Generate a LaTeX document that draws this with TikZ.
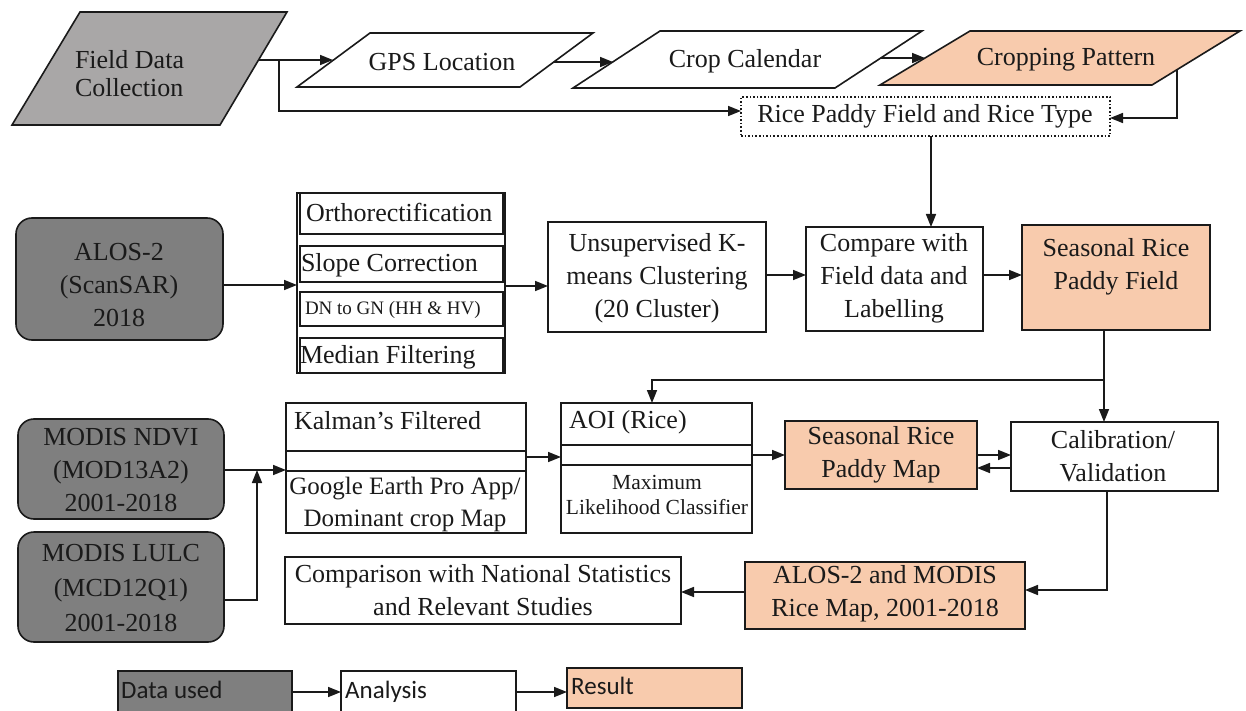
\documentclass[tikz,border=0pt]{standalone}
\usepackage{fontspec}
\setmainfont{Liberation Serif}
\newfontfamily\legendfont{Carlito}
\usetikzlibrary{arrows.meta,calc}
\definecolor{peach}{HTML}{F8CBAD}
\definecolor{dgray}{HTML}{7F7F7F}
\definecolor{lgray}{HTML}{A9A7A7}
\definecolor{ink}{HTML}{1A1A1A}
\tikzset{
  frame/.style={draw=ink, line width=1.6pt, inner sep=0pt, outer sep=0pt},
  rbox/.style={frame, rectangle},
  databox/.style={frame, fill=dgray, rounded corners=16pt},
  resbox/.style={frame, fill=peach},
  para/.style={draw=ink, line width=1.6pt, line join=miter},
  txt/.style={inner sep=0pt, outer sep=0pt, text=ink, align=center, font=\fontsize{26}{33}\selectfont},
  ltxt/.style={txt, align=left},
  smalltxt/.style={txt, font=\fontsize{19}{22}\selectfont},
  legtxt/.style={inner sep=0pt, text=ink, anchor=west, font=\legendfont\fontsize{25}{30}\selectfont},
  arr/.style={draw=ink, line width=1.6pt, -{Triangle[length=13pt,width=10pt]}},
  ln/.style={draw=ink, line width=1.5pt},
}
\begin{document}
\begin{tikzpicture}[x=1pt,y=-1pt]
\useasboundingbox (0,0) rectangle (1246,711);

% ---------- top row (parallelograms) ----------
\draw[para, fill=lgray] (80,12) -- (287,12) -- (220,125) -- (12,125) -- cycle;
\node[ltxt, anchor=west, font=\fontsize{26}{28}\selectfont] (fdc) at (75,74) {Field Data\\Collection};

\draw[para, fill=white] (370,33) -- (593,33) -- (520,87) -- (297,87) -- cycle;
\node[txt] (gps) at (442,62) {GPS Location};

\draw[para, fill=white] (660,31) -- (922,31) -- (835,88) -- (573,88) -- cycle;
\node[txt] (crop) at (745,61) {Crop Calendar};

\draw[para, fill=peach] (970,31) -- (1240,31) -- (1152,85) -- (880,85) -- cycle;
\node[txt] (cpat) at (1066,60) {Cropping Pattern};

\node[frame, draw=ink, dotted, line width=1.6pt, minimum width=369, minimum height=39] (rice) at (925.5,116.5) {};
\node[txt] (rice-t) at (925,116) {Rice Paddy Field and Rice Type};

% connection points on slanted edges
\coordinate (fdc-o) at (258,60);
\coordinate (gps-i) at (333,60);
\coordinate (gps-o) at (554,62);
\coordinate (crop-i) at (613,62);
\coordinate (crop-o) at (881,58);
\coordinate (cpat-i) at (925,58);
\coordinate (cpat-o) at (1177,70);
\coordinate (fdc-b) at (279,60);

\draw[arr] (fdc-o) -- (gps-i);
\draw[arr] (fdc-b) |- (rice.west |- 0,111);
\draw[arr] (gps-o) -- (crop-i);
\draw[arr] (crop-o) -- (cpat-i);
\draw[arr] (cpat-o) |- (rice.east |- 0,118);

% ---------- middle row ----------
\node[databox, minimum width=207, minimum height=122] (alos) at (119.5,279) {};
\node[txt] (alos-t) at (119,285) {ALOS-2\\(ScanSAR)\\2018};

\node[rbox, minimum width=208, minimum height=180] (stack) at (401,283) {};
\node[rbox, fill=white, minimum width=203, minimum height=41] (ortho) at (401.5,213.5) {};
\node[rbox, fill=white, minimum width=203, minimum height=36] (slope) at (401.5,264) {};
\node[rbox, fill=white, minimum width=203, minimum height=34] (dn) at (401.5,309) {};
\node[rbox, fill=white, minimum width=203, minimum height=35] (median) at (401.5,355.5) {};
\node[txt, anchor=west] (ortho-t) at (306,212) {Orthorectification};
\node[txt, anchor=west] (slope-t) at (301,265) {Slope Correction};
\node[smalltxt, anchor=west] (dn-t) at (305,310) {DN to GN (HH \& HV)};
\node[txt, anchor=west] (median-t) at (300,357) {Median Filtering};

\node[rbox, minimum width=218, minimum height=110] (unsup) at (657,277) {};
\node[txt] (unsup-t) at (657,278) {Unsupervised K-\\means Clustering\\(20 Cluster)};

\node[rbox, minimum width=177, minimum height=104] (cmp) at (894.5,279) {};
\node[txt] (cmp-t) at (894,278) {Compare with\\Field data and\\Labelling};

\node[resbox, minimum width=188, minimum height=105] (srpf) at (1116,277.5) {};
\node[txt] (srpf-t) at (1116,266.5) {Seasonal Rice\\Paddy Field};

\draw[arr] (alos.east |- 0,285) -- (stack.west |- 0,285);
\draw[arr] (stack.east |- 0,286) -- (unsup.west |- 0,286);
\draw[arr] (unsup.east |- 0,275) -- (cmp.west |- 0,275);
\draw[arr] (cmp.east |- 0,275) -- (srpf.west |- 0,275);
\draw[arr] (rice.south -| 931,0) -- (cmp.north -| 931,0);

% ---------- lower row ----------
\node[databox, minimum width=206, minimum height=100] (ndvi) at (121,469) {};
\node[txt] (ndvi-t) at (121,470) {MODIS NDVI\\(MOD13A2)\\2001-2018};
\node[databox, minimum width=206, minimum height=110] (lulc) at (121,587) {};
\node[txt, font=\fontsize{26}{35}\selectfont] (lulc-t) at (121,588) {MODIS LULC\\(MCD12Q1)\\2001-2018};

\node[rbox, minimum width=240, minimum height=130] (kal) at (406,468) {};
\draw[ln] (kal.west |- 0,451) -- (kal.east |- 0,451);
\draw[ln] (kal.west |- 0,471) -- (kal.east |- 0,471);
\node[txt, anchor=west] (kal-t) at (294,421) {Kalman’s Filtered};
\node[txt, font=\fontsize{25}{32}\selectfont] (gep-t) at (405,504) {Google Earth Pro App/\\Dominant crop Map};

\node[rbox, minimum width=191, minimum height=130] (aoi) at (656.5,468) {};
\draw[ln] (aoi.west |- 0,445) -- (aoi.east |- 0,445);
\draw[ln] (aoi.west |- 0,465) -- (aoi.east |- 0,465);
\node[txt, anchor=west] (aoi-t) at (569,422) {AOI (Rice)};
\node[txt, font=\fontsize{21.5}{25}\selectfont] (mlc-t) at (657,494.5) {Maximum\\Likelihood Classifier};

\node[resbox, minimum width=192, minimum height=68] (srpm) at (881,455) {};
\node[txt] (srpm-t) at (881,455) {Seasonal Rice\\Paddy Map};

\node[rbox, minimum width=207, minimum height=69] (cal) at (1114.5,456.5) {};
\node[txt] (cal-t) at (1113,456) {Calibration/\\Validation};

\node[resbox, minimum width=280, minimum height=67] (am) at (885,595.5) {};
\node[txt] (am-t) at (885,594) {ALOS-2 and MODIS\\Rice Map, 2001-2018};

\node[rbox, minimum width=396, minimum height=67] (comp) at (483,590.5) {};
\node[txt] (comp-t) at (483,590) {Comparison with National Statistics\\and Relevant Studies};

\coordinate (jl) at (257,470);
\draw[arr] (ndvi.east |- 0,470) -- (kal.west |- 0,470);
\draw[arr] (lulc.east |- 0,600) -| (jl);
\draw[arr] (kal.east |- 0,457) -- (aoi.west |- 0,457);
\draw[arr] (aoi.east |- 0,455) -- (srpm.west |- 0,455);
\draw[arr] (srpm.east |- 0,455) -- (cal.west |- 0,455);
\draw[arr] (cal.west |- 0,468) -- (srpm.east |- 0,468);
\draw[arr] (srpf.south -| 1104,0) -- (cal.north -| 1104,0);
\coordinate (br) at (1104,380);
\draw[arr] (br) -| (aoi.north -| 652,0);
\draw[arr] (cal.south -| 1107,0) |- (am.east |- 0,590);
\draw[arr] (am.west |- 0,592) -- (comp.east |- 0,592);

% ---------- legend ----------
\node[frame, fill=dgray, minimum width=174, minimum height=44, anchor=north west] (lg1) at (118,671) {};
\node[frame, fill=white, minimum width=175, minimum height=44, anchor=north west] (lg2) at (341,671) {};
\node[frame, fill=peach, minimum width=175, minimum height=40, anchor=north west] (lg3) at (567,668) {};
\node[legtxt] (lg1-t) at (121,690) {Data used};
\node[legtxt] (lg2-t) at (345,692) {Analysis};
\node[legtxt] (lg3-t) at (571,686) {Result};
\draw[arr] (lg1.east |- 0,692) -- (lg2.west |- 0,692);
\draw[arr] (lg2.east |- 0,692) -- (lg3.west |- 0,692);
\end{tikzpicture}
\end{document}
